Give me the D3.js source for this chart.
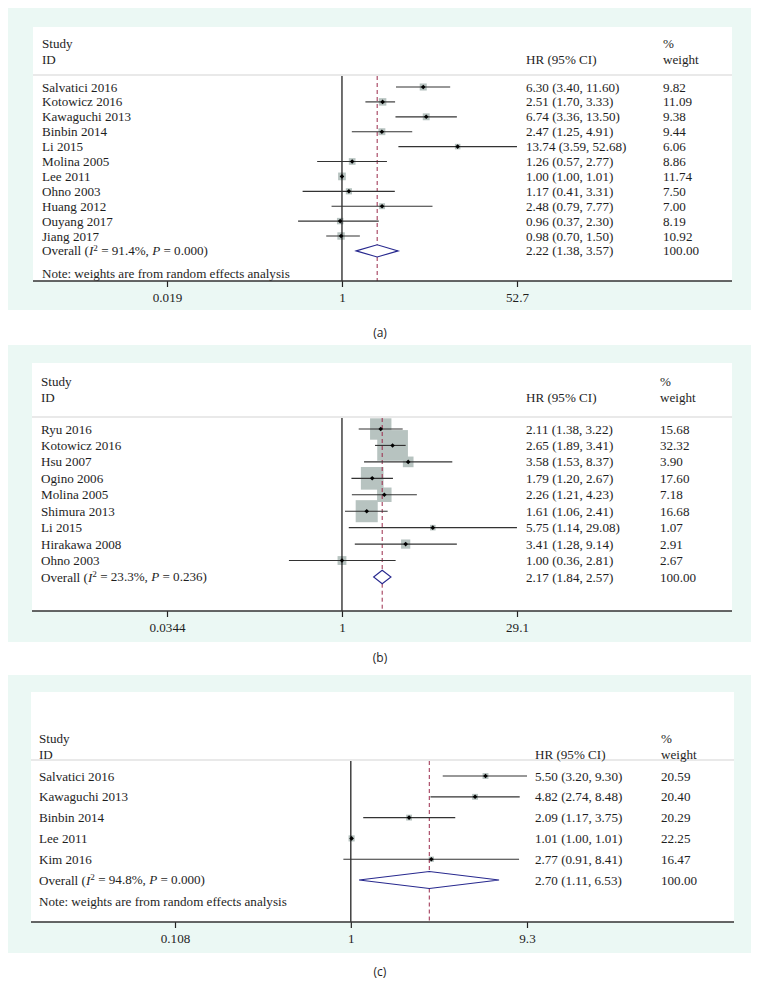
<!DOCTYPE html>
<html><head><meta charset="utf-8">
<script src="https://cdn.jsdelivr.net/npm/d3@7"></script>
<style>
html,body{margin:0;padding:0;background:#fff;}
svg{display:block;}
text{font-family:"Liberation Serif","Times New Roman",serif;fill:#1e1e1e;}
</style></head>
<body>
<svg id="chart" width="760" height="996"></svg>
<script>
// ---------- Data: panel (a) ----------
const studiesA = ["Salvatici 2016","Kotowicz 2016","Kawaguchi 2013","Binbin 2014","Li 2015","Molina 2005","Lee 2011","Ohno 2003","Huang 2012","Ouyang 2017","Jiang 2017"];
const hrA     = [6.30, 2.51, 6.74, 2.47, 13.74, 1.26, 1.00, 1.17, 2.48, 0.96, 0.98];
const lowA    = [3.40, 1.70, 3.36, 1.25, 3.59, 0.57, 1.00, 0.41, 0.79, 0.37, 0.70];
const highA   = [11.60, 3.33, 13.50, 4.91, 52.68, 2.77, 1.01, 3.31, 7.77, 2.30, 1.50];
const weightA = [9.82, 11.09, 9.38, 9.44, 6.06, 8.86, 11.74, 7.50, 7.00, 8.19, 10.92];
const overallA = [2.22, 1.38, 3.57];
const statsA = ["91.4%", "0.000"];
const ticksA = [0.019, 1, 52.7];

// ---------- Data: panel (b) ----------
const studiesB = ["Ryu 2016","Kotowicz 2016","Hsu 2007","Ogino 2006","Molina 2005","Shimura 2013","Li 2015","Hirakawa 2008","Ohno 2003"];
const hrB     = [2.11, 2.65, 3.58, 1.79, 2.26, 1.61, 5.75, 3.41, 1.00];
const lowB    = [1.38, 1.89, 1.53, 1.20, 1.21, 1.06, 1.14, 1.28, 0.36];
const highB   = [3.22, 3.41, 8.37, 2.67, 4.23, 2.41, 29.08, 9.14, 2.81];
const weightB = [15.68, 32.32, 3.90, 17.60, 7.18, 16.68, 1.07, 2.91, 2.67];
const overallB = [2.17, 1.84, 2.57];
const statsB = ["23.3%", "0.236"];
const ticksB = [0.0344, 1, 29.1];

// ---------- Data: panel (c) ----------
const studiesC = ["Salvatici 2016","Kawaguchi 2013","Binbin 2014","Lee 2011","Kim 2016"];
const hrC     = [5.50, 4.82, 2.09, 1.01, 2.77];
const lowC    = [3.20, 2.74, 1.17, 1.00, 0.91];
const highC   = [9.30, 8.48, 3.75, 1.01, 8.41];
const weightC = [20.59, 20.40, 20.29, 22.25, 16.47];
const overallC = [2.70, 1.11, 6.53];
const statsC = ["94.8%", "0.000"];
const ticksC = [0.108, 1, 9.3];

const noteText = "Note: weights are from random effects analysis";

// ---------- Layout per panel ----------
const panels = [
  {studies:studiesA, hr:hrA, low:lowA, high:highA, w:weightA, overall:overallA, stats:statsA, ticks:ticksA,
   caption:"(a)", bgTop:8, bgBot:310, wx0:33, wx1:732, wTop:27, sep:75, studyY:43, idY:59,
   row0:87, step:14.9, noteY:273, axisY:281, tickY:297, capY:333, xr:[167,517],
   labX:42, hrX:526, wtX:663, boxK:2.25, note:true},
  {studies:studiesB, hr:hrB, low:lowB, high:highB, w:weightB, overall:overallB, stats:statsB, ticks:ticksB,
   caption:"(b)", bgTop:345, bgBot:642, wx0:32, wx1:732, wTop:363, sep:417, studyY:381, idY:397,
   row0:429, step:16.44, noteY:null, axisY:611, tickY:627, capY:658, xr:[167,517],
   labX:41, hrX:526, wtX:660, boxK:5.4, note:false},
  {studies:studiesC, hr:hrC, low:lowC, high:highC, w:weightC, overall:overallC, stats:statsC, ticks:ticksC,
   caption:"(c)", bgTop:675, bgBot:953, wx0:31, wx1:734, wTop:692, sep:760, studyY:738, idY:754,
   row0:776, step:20.8, noteY:901, axisY:922, tickY:938, capY:972, xr:[175,527],
   labX:39, hrX:535, wtX:661, boxK:1.3, note:true}
];

const svg = d3.select("#chart");
const f2 = d3.format(".2f");
const FS = 13.1;

panels.forEach(p => {
  const g = svg.append("g");
  // background
  g.append("rect").attr("x",8).attr("y",p.bgTop).attr("width",743).attr("height",p.bgBot-p.bgTop).attr("fill","#ebf8f4");
  g.append("rect").attr("x",p.wx0).attr("y",p.wTop).attr("width",p.wx1-p.wx0).attr("height",p.axisY-p.wTop).attr("fill","#ffffff");

  const x = d3.scaleLog().domain([p.ticks[0], p.ticks[2]]).range(p.xr);
  const n = p.studies.length;
  const y = d3.scaleLinear().domain([0, n]).range([p.row0, p.row0 + n*p.step]);

  // header separator
  g.append("line").attr("x1",p.wx0).attr("x2",p.wx1).attr("y1",p.sep).attr("y2",p.sep)
    .attr("stroke","#d4d4d4").attr("stroke-width",1.2);

  // headers
  const txt = (xx, yy, s, anchor) => g.append("text").attr("x",xx).attr("y",yy).attr("dy","0.35em")
      .attr("font-size",FS).attr("text-anchor",anchor||"start").text(s);
  txt(p.labX, p.studyY, "Study");
  txt(p.labX, p.idY, "ID");
  txt(p.hrX, p.idY, "HR (95% CI)");
  txt(p.wtX, p.studyY, "%");
  txt(p.wtX, p.idY, "weight");

  // boxes
  g.selectAll("rect.box").data(d3.range(n)).join("rect").attr("class","box")
    .attr("x", i => x(p.hr[i]) - p.boxK*Math.sqrt(p.w[i])/2)
    .attr("y", i => y(i) - p.boxK*Math.sqrt(p.w[i])/2)
    .attr("width", i => p.boxK*Math.sqrt(p.w[i]))
    .attr("height", i => p.boxK*Math.sqrt(p.w[i]))
    .attr("fill","#b7c3c0");

  // null line
  g.append("line").attr("x1",x(1)).attr("x2",x(1)).attr("y1",p.sep+1).attr("y2",p.axisY)
    .attr("stroke","#111").attr("stroke-width",1.2);

  // overall dashed line (interrupted by diamond)
  const ox = x(p.overall[0]);
  const oy = y(n);
  const dh = p.step*0.41;
  [[p.sep+1, oy-dh],[oy+dh, p.axisY]].forEach(seg => {
    g.append("line").attr("x1",ox).attr("x2",ox).attr("y1",seg[0]).attr("y2",seg[1])
      .attr("stroke","#9b2a4a").attr("stroke-width",1).attr("stroke-dasharray","4,3");
  });

  // CI lines
  g.selectAll("line.ci").data(d3.range(n)).join("line").attr("class","ci")
    .attr("x1", i => x(p.low[i])).attr("x2", i => x(p.high[i]))
    .attr("y1", i => y(i)).attr("y2", i => y(i))
    .attr("stroke","#333").attr("stroke-width",1.15);

  // point estimates
  g.selectAll("path.pt").data(d3.range(n)).join("path").attr("class","pt")
    .attr("d", i => { const cx = x(p.hr[i]), cy = y(i), r = 2.3;
      return `M${cx},${cy-r}L${cx+r},${cy}L${cx},${cy+r}L${cx-r},${cy}Z`; })
    .attr("fill","#000");

  // diamond
  const lx = x(p.overall[1]), rx = x(p.overall[2]);
  g.append("path").attr("d",`M${lx},${oy}L${ox},${oy-dh}L${rx},${oy}L${ox},${oy+dh}Z`)
    .attr("fill","none").attr("stroke","#27288e").attr("stroke-width",1.1);

  // study labels and values
  g.selectAll("text.lab").data(d3.range(n)).join("text").attr("class","lab")
    .attr("x",p.labX).attr("y",i=>y(i)).attr("dy","0.35em").attr("font-size",FS).text(i=>p.studies[i]);
  g.selectAll("text.hrv").data(d3.range(n)).join("text").attr("class","hrv")
    .attr("x",p.hrX).attr("y",i=>y(i)).attr("dy","0.35em").attr("font-size",FS)
    .text(i=>`${f2(p.hr[i])} (${f2(p.low[i])}, ${f2(p.high[i])})`);
  g.selectAll("text.wv").data(d3.range(n)).join("text").attr("class","wv")
    .attr("x",p.wtX).attr("y",i=>y(i)).attr("dy","0.35em").attr("font-size",FS)
    .text(i=>f2(p.w[i]));

  // overall row
  const ot = g.append("text").attr("x",p.labX).attr("y",oy).attr("dy","0.35em").attr("font-size",FS);
  ot.append("tspan").text("Overall (");
  ot.append("tspan").attr("font-style","italic").text("I");
  ot.append("tspan").attr("font-size",FS*0.7).attr("dy","-0.45em").text("2");
  ot.append("tspan").attr("dy","0.3em").text(` = ${p.stats[0]}, `);
  ot.append("tspan").attr("font-style","italic").text("P");
  ot.append("tspan").text(` = ${p.stats[1]})`);
  txt(p.hrX, oy, `${f2(p.overall[0])} (${f2(p.overall[1])}, ${f2(p.overall[2])})`);
  txt(p.wtX, oy, f2(100));

  if (p.note) txt(p.labX, p.noteY, noteText);

  // axis
  const axis = d3.axisBottom(x).tickValues(p.ticks).tickSize(6).tickFormat(d => String(d));
  const ag = g.append("g").attr("transform",`translate(0,${p.axisY})`).call(axis);
  ag.select(".domain").remove();
  ag.selectAll(".tick line").attr("stroke","#222").attr("stroke-width",1.2);
  ag.selectAll(".tick text").attr("font-family","Liberation Serif, serif").attr("font-size",FS)
    .attr("fill","#1e1e1e").attr("y",p.tickY - p.axisY).attr("dy","0.35em");
  g.append("line").attr("x1",p.wx0).attr("x2",p.wx1).attr("y1",p.axisY).attr("y2",p.axisY)
    .attr("stroke","#333").attr("stroke-width",1.3);

  // caption
  svg.append("text").attr("x",380).attr("y",p.capY).attr("dy","0.35em").attr("text-anchor","middle")
    .attr("font-size",12).style("font-family","'Open Sans','Noto Sans',sans-serif").attr("fill","#333").text(p.caption);
});
</script>
</body></html>
